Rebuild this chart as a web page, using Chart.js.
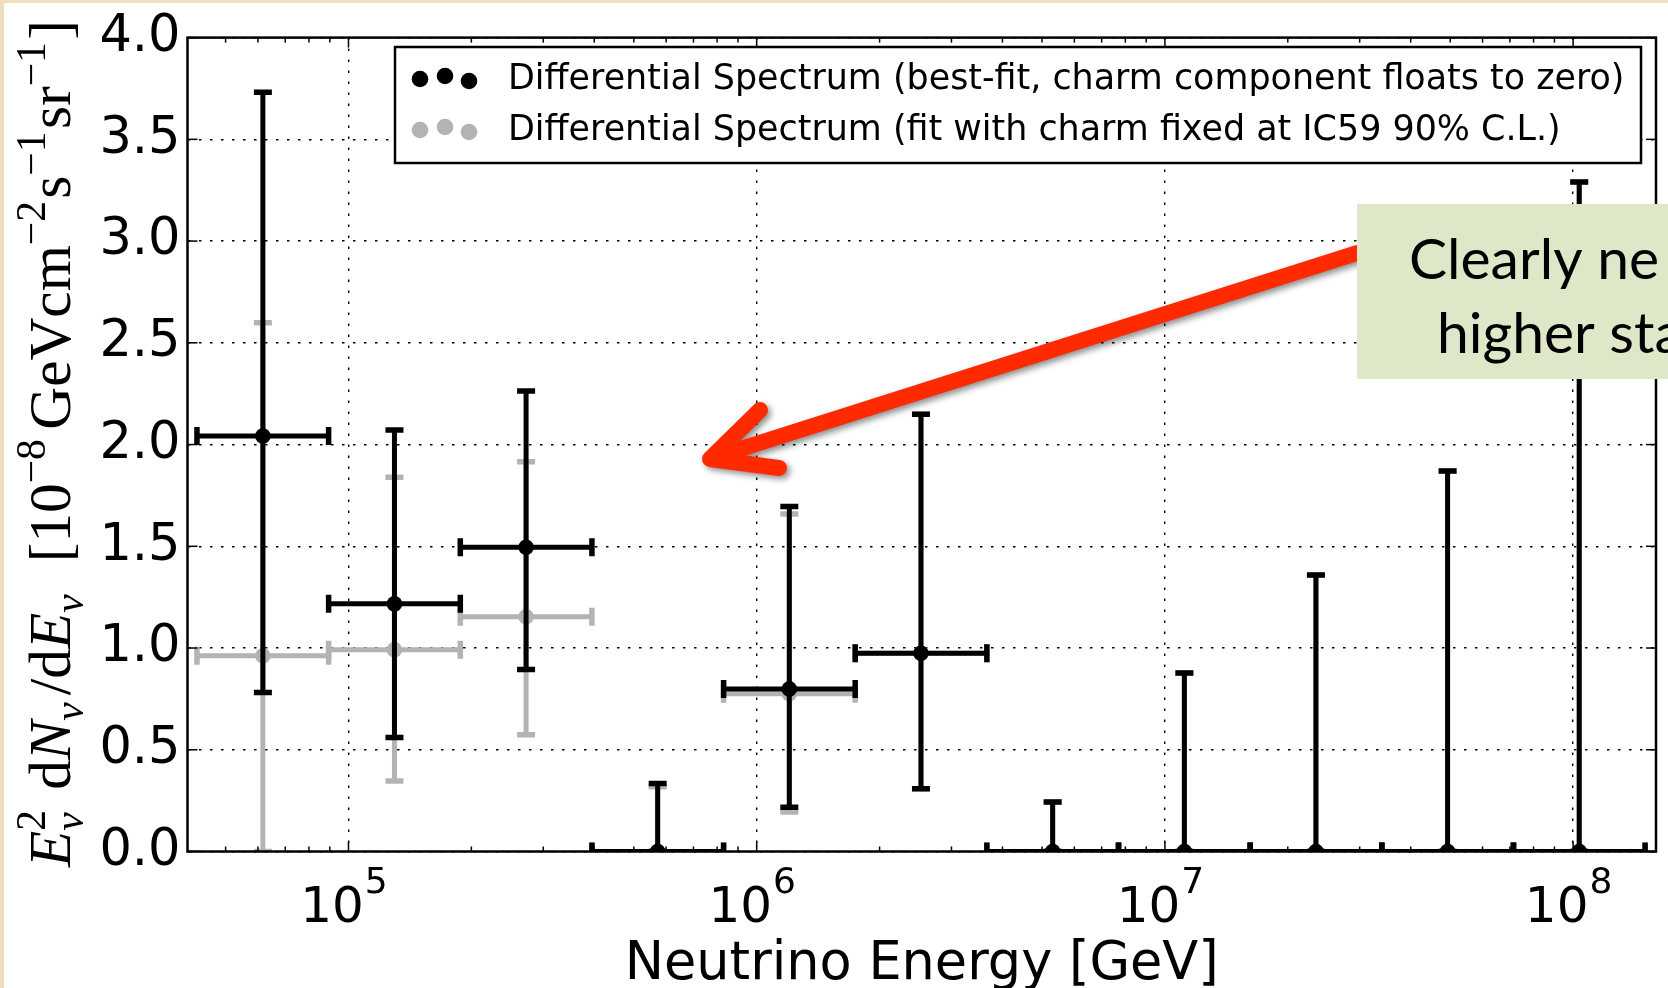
<!DOCTYPE html>
<html>
<head>
<meta charset="utf-8">
<script src="https://cdn.jsdelivr.net/npm/chart.js@4.4.0/dist/chart.umd.min.js"></script>
<style>
html,body{margin:0;padding:0;background:#ffffff;}
canvas{display:block;}
</style>
</head>
<body>
<canvas id="c" width="1668" height="988"></canvas>
<script>
// ---------------- data ----------------
const binCenters = [61700, 129600, 272300, 572000, 1202000, 2526000, 5309000, 11160000, 23440000, 49260000, 103500000];
const binLow     = [42540, 89400, 187900, 394800, 829700, 1743000, 3663000, 7698000, 16180000, 33990000, 71430000];
const binHigh    = [89400, 187900, 394800, 829700, 1743000, 3663000, 7698000, 16180000, 33990000, 71430000, 150100000];

const bestFit     = [2.042, 1.217, 1.495, 0, 0.799, 0.974, 0, 0, 0, 0, 0];
const bestFitLow  = [0.781, 0.560, 0.895, 0, 0.218, 0.308, 0, 0, 0, 0, 0];
const bestFitHigh = [3.732, 2.071, 2.263, 0.334, 1.696, 2.149, 0.243, 0.877, 1.359, 1.870, 3.290];

const charmFixed     = [0.962, 0.992, 1.154, 0, 0.775, 0.974, 0, 0, 0, 0, 0];
const charmFixedLow  = [0.000, 0.346, 0.574, 0, 0.194, 0.308, 0, 0, 0, 0, 0];
const charmFixedHigh = [2.599, 1.839, 1.916, 0.318, 1.659, 2.149, 0.243, 0.877, 1.359, 1.870, 3.290];

const seriesLabels = [
  'Differential Spectrum (best-fit, charm component floats to zero)',
  'Differential Spectrum (fit with charm fixed at IC59 90% C.L.)'
];
const xTickValues = [1e5, 1e6, 1e7, 1e8];
const xTickBase   = ['10', '10', '10', '10'];
const xTickExp    = ['5', '6', '7', '8'];
const yTickValues = [0, 0.5, 1, 1.5, 2, 2.5, 3, 3.5, 4];
const yTickLabels = ['0.0', '0.5', '1.0', '1.5', '2.0', '2.5', '3.0', '3.5', '4.0'];
const xAxisTitle = 'Neutrino Energy [GeV]';
const noteLines = ['Clearly ne', 'higher sta'];

const X_MIN = 40330, X_MAX = 159600000;
const SANS = '"DejaVu Sans", sans-serif';
const SERIF = '"Liberation Serif", "DejaVu Serif", serif';
const GRAY = '#b3b3b3';

// ---------------- helpers ----------------
function line(ctx, x0, y0, x1, y1) {
  ctx.beginPath(); ctx.moveTo(x0, y0); ctx.lineTo(x1, y1); ctx.stroke();
}

const errorBarPlugin = {
  id: 'errorBars',
  beforeDatasetDraw(chart, args) {
    const ds = chart.data.datasets[args.index];
    const xs = chart.scales.x, ys = chart.scales.y, a = chart.chartArea;
    const ctx = chart.ctx;
    const cap = 18;
    ctx.save();
    ctx.beginPath(); ctx.rect(a.left, a.top, a.right - a.left, a.bottom - a.top); ctx.clip();
    ctx.strokeStyle = ds.errColor; ctx.lineCap = 'butt';
    ds.data.forEach((p, i) => {
      const px = xs.getPixelForValue(p.x), py = ys.getPixelForValue(p.y);
      const xl = xs.getPixelForValue(ds.xLow[i]), xh = xs.getPixelForValue(ds.xHigh[i]);
      const yl = ys.getPixelForValue(ds.errLow[i]), yh = ys.getPixelForValue(ds.errHigh[i]);
      ctx.lineWidth = 5;
      line(ctx, px, yl, px, yh);
      line(ctx, xl, py, xh, py);
      ctx.lineWidth = 5.5;
      line(ctx, px - cap / 2, yl, px + cap / 2, yl);
      line(ctx, px - cap / 2, yh, px + cap / 2, yh);
      line(ctx, xl, py - cap / 2, xl, py + cap / 2);
      line(ctx, xh, py - cap / 2, xh, py + cap / 2);
    });
    ctx.restore();
  }
};

function drawYTitle(ctx) {
  const segs = [
    {t: 'E', it: true}, {sup: '2', sub: 'ν'}, {sp: 0.3},
    {t: 'd'}, {t: 'N', it: true}, {sub: 'ν'}, {sp: 0.08}, {t: '/'}, {t: 'd'}, {t: 'E', it: true}, {sub: 'ν'}, {sp: 0.5},
    {t: '[10'}, {sup: '−8'}, {sp: 0.12}, {t: 'GeVcm'}, {sup: '−2'}, {t: 's'}, {sup: '−1'}, {t: 'sr'}, {sup: '−1'}, {t: ']'}
  ];
  function run(F, draw) {
    let x = 0;
    const f = (it, s) => (it ? 'italic ' : '') + s + 'px ' + SERIF;
    for (const s of segs) {
      if (s.sp) { x += s.sp * F; continue; }
      if (s.t) {
        ctx.font = f(s.it, F);
        if (draw) ctx.fillText(s.t, x, 0);
        x += ctx.measureText(s.t).width;
        continue;
      }
      let w = 0;
      if (s.sup) {
        ctx.font = f(false, 0.7 * F);
        if (draw) ctx.fillText(s.sup, x, -0.42 * F);
        w = Math.max(w, ctx.measureText(s.sup).width);
      }
      if (s.sub) {
        ctx.font = f(true, 0.7 * F);
        if (draw) ctx.fillText(s.sub, x, 0.22 * F);
        w = Math.max(w, ctx.measureText(s.sub).width);
      }
      x += w + 0.04 * F;
    }
    return x;
  }
  ctx.save();
  ctx.fillStyle = '#000';
  ctx.textBaseline = 'alphabetic';
  ctx.textAlign = 'left';
  const F0 = 48;
  const L0 = run(F0, false);
  const F = F0 * 847 / L0;
  ctx.translate(70, 867);
  ctx.rotate(-Math.PI / 2);
  run(F, true);
  ctx.restore();
}

const decorPlugin = {
  id: 'decor',
  beforeDraw(chart) {
    const ctx = chart.ctx;
    ctx.save();
    ctx.fillStyle = '#ffffff';
    ctx.fillRect(0, 0, chart.width, chart.height);
    ctx.restore();
  },
  afterDatasetsDraw(chart) {
    const ctx = chart.ctx, a = chart.chartArea;
    const xs = chart.scales.x, ys = chart.scales.y;
    ctx.save();
    ctx.strokeStyle = '#000';
    ctx.lineWidth = 1.5;
    xTickValues.forEach(v => {
      const px = xs.getPixelForValue(v);
      line(ctx, px, a.bottom, px, a.bottom - 10);
      line(ctx, px, a.top, px, a.top + 10);
    });
    for (let d = 4; d <= 8; d++) {
      for (let m = 2; m <= 9; m++) {
        const v = m * Math.pow(10, d);
        if (v <= X_MIN || v >= X_MAX) continue;
        const px = xs.getPixelForValue(v);
        line(ctx, px, a.bottom, px, a.bottom - 5);
        line(ctx, px, a.top, px, a.top + 5);
      }
    }
    yTickValues.forEach(v => {
      const py = ys.getPixelForValue(v);
      line(ctx, a.left, py, a.left + 10, py);
      line(ctx, a.right, py, a.right - 10, py);
    });
    ctx.lineWidth = 2.5;
    ctx.strokeRect(a.left, a.top, a.right - a.left, a.bottom - a.top);
    ctx.restore();
  },
  afterDraw(chart) {
    const ctx = chart.ctx, xs = chart.scales.x;
    ctx.save();
    ctx.fillStyle = '#000';
    ctx.textBaseline = 'alphabetic';
    xTickValues.forEach((v, i) => {
      const px = xs.getPixelForValue(v);
      ctx.font = '50px ' + SANS;
      const wb = ctx.measureText(xTickBase[i]).width;
      ctx.font = '36px ' + SANS;
      const we = ctx.measureText(xTickExp[i]).width;
      const x0 = px - (wb + we) / 2 - 5;
      ctx.font = '50px ' + SANS;
      ctx.textAlign = 'left';
      ctx.fillText(xTickBase[i], x0, 922);
      ctx.font = '36px ' + SANS;
      ctx.fillText(xTickExp[i], x0 + wb + 1, 893);
    });
    ctx.restore();

    drawYTitle(ctx);

    // legend
    ctx.save();
    ctx.fillStyle = '#fff';
    ctx.fillRect(395, 47, 1246, 116);
    ctx.strokeStyle = '#000'; ctx.lineWidth = 2.5;
    ctx.strokeRect(395, 47, 1246, 116);
    const dotX = [420, 445, 469];
    const dotDY = [0, -3, 2];
    const rows = [{y: 79, c: '#000', t: seriesLabels[0], ty: 89}, {y: 130, c: GRAY, t: seriesLabels[1], ty: 140}];
    rows.forEach(r => {
      ctx.fillStyle = r.c;
      dotX.forEach((dx, k) => {
        ctx.beginPath(); ctx.arc(dx, r.y + dotDY[k], 8.3, 0, Math.PI * 2); ctx.fill();
      });
      ctx.fillStyle = '#000';
      ctx.font = '34.9px ' + SANS;
      ctx.textAlign = 'left'; ctx.textBaseline = 'alphabetic';
      ctx.fillText(r.t, 508, r.ty);
    });
    ctx.restore();

    // red arrow with shadow
    ctx.save();
    ctx.shadowColor = 'rgba(0,0,0,0.45)';
    ctx.shadowBlur = 6; ctx.shadowOffsetX = 3; ctx.shadowOffsetY = 3;
    ctx.strokeStyle = '#ff2a00'; ctx.lineWidth = 16; ctx.lineCap = 'round'; ctx.lineJoin = 'round';
    ctx.beginPath();
    ctx.moveTo(1357, 253); ctx.lineTo(712, 458);
    ctx.moveTo(760, 410); ctx.lineTo(710, 459); ctx.lineTo(779, 468);
    ctx.stroke();
    ctx.restore();

    // green note box
    ctx.save();
    ctx.fillStyle = '#dee7c8';
    ctx.fillRect(1357, 204, 1668 - 1357, 175);
    ctx.fillStyle = '#000';
    ctx.font = '57px Lato, "Open Sans", sans-serif';
    ctx.textAlign = 'left'; ctx.textBaseline = 'alphabetic';
    ctx.fillText(noteLines[0], 1409, 279);
    ctx.fillText(noteLines[1], 1437, 353);
    ctx.restore();

    // beige slide border
    ctx.save();
    ctx.fillStyle = '#efdfbd';
    ctx.fillRect(0, 0, 4, chart.height);
    ctx.fillRect(0, 0, chart.width, 3);
    ctx.restore();
  }
};

const chart = new Chart(document.getElementById('c'), {
  type: 'scatter',
  data: {
    datasets: [
      {
        label: seriesLabels[0],
        data: binCenters.map((x, i) => ({x: x, y: bestFit[i]})),
        xLow: binLow, xHigh: binHigh, errLow: bestFitLow, errHigh: bestFitHigh, errColor: '#000',
        pointRadius: 7.8, pointHoverRadius: 7.8, pointBackgroundColor: '#000', pointBorderColor: '#000', pointBorderWidth: 0,
        showLine: false, clip: 0
      },
      {
        label: seriesLabels[1],
        data: binCenters.map((x, i) => ({x: x, y: charmFixed[i]})),
        xLow: binLow, xHigh: binHigh, errLow: charmFixedLow, errHigh: charmFixedHigh, errColor: GRAY,
        pointRadius: 7.8, pointHoverRadius: 7.8, pointBackgroundColor: GRAY, pointBorderColor: GRAY, pointBorderWidth: 0,
        showLine: false, clip: 0
      }
    ]
  },
  options: {
    responsive: false,
    animation: false,
    devicePixelRatio: 1,
    layout: {padding: {left: 0, top: 31, right: 12, bottom: 0}},
    plugins: {legend: {display: false}, tooltip: {enabled: false}},
    events: [],
    scales: {
      x: {
        type: 'logarithmic',
        min: X_MIN, max: X_MAX, bounds: 'data',
        afterBuildTicks: s => { s.ticks = xTickValues.map(v => ({value: v})); },
        afterFit: s => { s.height = 136.5; },
        ticks: {display: false},
        grid: {display: true, color: '#000', lineWidth: 1.4, drawTicks: false},
        border: {display: false, dash: [2.5, 8.5]},
        title: {display: true, text: xAxisTitle, color: '#000', font: {family: 'DejaVu Sans', size: 52.5, lineHeight: 0.88}, padding: {top: 0, bottom: 0}}
      },
      y: {
        type: 'linear',
        min: 0, max: 4,
        afterBuildTicks: s => { s.ticks = yTickValues.map(v => ({value: v})); },
        afterFit: s => { s.width = 187.5; },
        ticks: {
          color: '#000', padding: 7,
          font: {family: 'DejaVu Sans', size: 51},
          callback: (v, i) => yTickLabels[i]
        },
        grid: {display: true, color: '#000', lineWidth: 1.4, drawTicks: false},
        border: {display: false, dash: [2.5, 8.5]}
      }
    }
  },
  plugins: [errorBarPlugin, decorPlugin]
});
</script>
</body>
</html>
